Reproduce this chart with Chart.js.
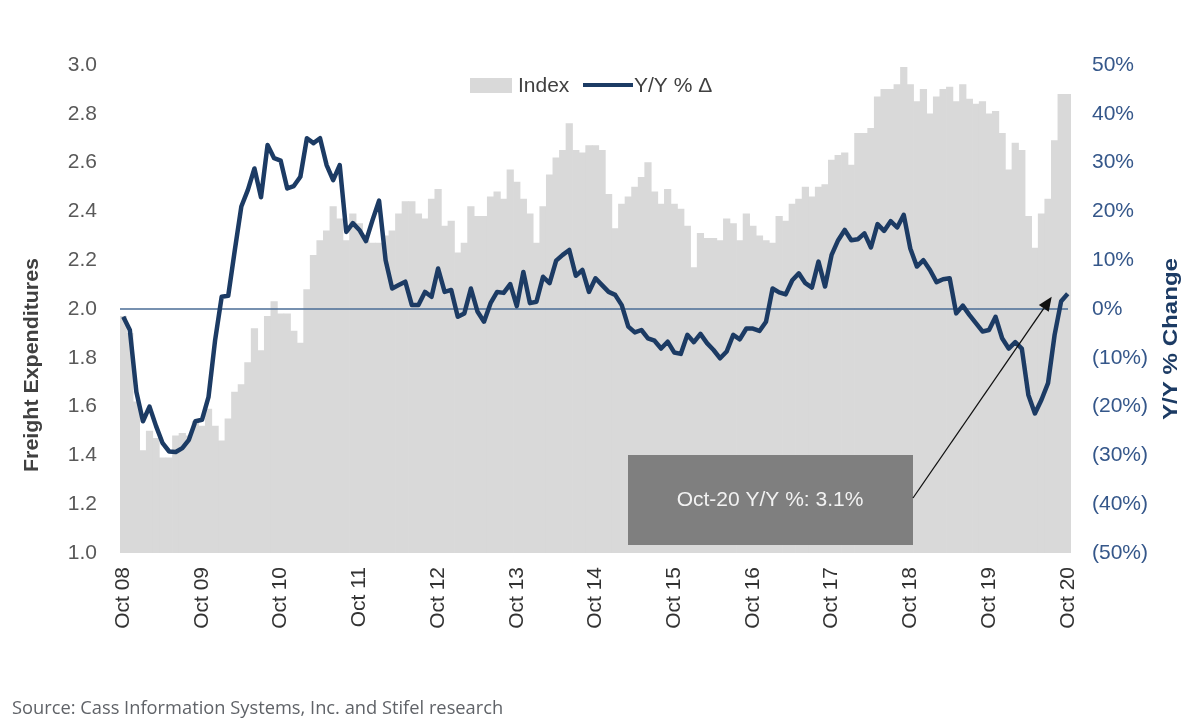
<!DOCTYPE html>
<html lang="en">
<head>
<meta charset="utf-8">
<title>Freight Expenditures</title>
<script src="https://cdn.jsdelivr.net/npm/chart.js@4.4.1/dist/chart.umd.min.js"></script>
<style>
  html, body { margin: 0; padding: 0; background: #ffffff; }
  #wrap { position: relative; width: 1200px; height: 726px; }
</style>
</head>
<body>
<div id="wrap"><canvas id="freightchart"></canvas></div>
<script>
"use strict";

/**
 * @file Cass freight expenditures index (bars, left axis) with its
 *  year-over-year change (line, right axis), monthly Oct 08 - Oct 20.
 */

// Category axis: one entry per month, only the October months get a label.
const monthNames = ["Jan", "Feb", "Mar", "Apr", "May", "Jun", "Jul", "Aug", "Sep", "Oct", "Nov", "Dec"];
const yearTicks = ["Oct 08", "Oct 09", "Oct 10", "Oct 11", "Oct 12", "Oct 13", "Oct 14",
  "Oct 15", "Oct 16", "Oct 17", "Oct 18", "Oct 19", "Oct 20"];

// Freight expenditures index (left axis)
const indexValues = [
  1.97, 1.90, 1.62, 1.42, 1.50, 1.47, 1.39, 1.39, 1.48, 1.49, 1.48, 1.54,
  1.52, 1.59, 1.52, 1.46, 1.55, 1.66, 1.69, 1.78, 1.92, 1.83, 1.97, 2.03,
  1.98, 1.98, 1.91, 1.86, 2.08, 2.22, 2.28, 2.32, 2.42, 2.37, 2.28, 2.39,
  2.35, 2.28, 2.27, 2.27, 2.30, 2.32, 2.39, 2.44, 2.44, 2.39, 2.37, 2.45,
  2.49, 2.34, 2.36, 2.23, 2.27, 2.42, 2.38, 2.38, 2.46, 2.48, 2.45, 2.57,
  2.52, 2.45, 2.39, 2.27, 2.42, 2.55, 2.62, 2.65, 2.76, 2.65, 2.64, 2.67,
  2.67, 2.65, 2.47, 2.33, 2.43, 2.46, 2.50, 2.54, 2.60, 2.48, 2.43, 2.49,
  2.43, 2.41, 2.34, 2.17, 2.31, 2.29, 2.29, 2.28, 2.37, 2.35, 2.28, 2.39,
  2.34, 2.30, 2.28, 2.27, 2.38, 2.36, 2.43, 2.45, 2.50, 2.46, 2.50, 2.51,
  2.61, 2.63, 2.64, 2.59, 2.72, 2.72, 2.74, 2.87, 2.90, 2.90, 2.92, 2.99,
  2.92, 2.85, 2.90, 2.80, 2.87, 2.90, 2.91, 2.85, 2.92, 2.86, 2.84, 2.85,
  2.80, 2.81, 2.72, 2.57, 2.68, 2.65, 2.38, 2.25, 2.39, 2.45, 2.69, 2.88,
  2.88
];

// Y/Y % change (right axis)
const yoyValues = [
  -1.6, -4.3, -17.0, -23.0, -20.0, -24.0, -27.5, -29.2, -29.3, -28.5, -26.8, -23.0,
  -22.7, -18.0, -6.4, 2.5, 2.7, 12.0, 21.0, 24.4, 28.8, 22.9, 33.6, 30.9,
  30.4, 24.7, 25.2, 27.1, 35.0, 34.0, 35.0, 29.5, 26.4, 29.5, 15.8, 17.6,
  16.2, 13.9, 18.2, 22.2, 10.0, 4.2, 4.9, 5.6, 0.8, 0.8, 3.5, 2.5,
  8.3, 3.5, 3.9, -1.6, -0.9, 4.2, -0.5, -2.6, 1.2, 3.5, 3.3, 5.1,
  0.6, 7.6, 1.2, 1.5, 6.6, 5.3, 9.9, 11.1, 12.1, 6.8, 8.0, 3.5,
  6.3, 4.9, 3.5, 2.9, 0.8, -3.6, -4.8, -4.3, -6.0, -6.5, -8.1, -6.7,
  -8.9, -9.2, -5.3, -6.8, -5.1, -7.0, -8.4, -10.1, -8.7, -5.3, -6.2, -4.0,
  -4.0, -4.5, -2.6, 4.2, 3.4, 3.0, 5.9, 7.3, 5.3, 4.4, 9.7, 4.6,
  11.1, 14.1, 16.2, 14.1, 14.3, 15.5, 12.6, 17.4, 16.0, 18.0, 16.7, 19.3,
  12.4, 8.7, 10.0, 8.0, 5.5, 6.1, 6.3, -0.9, 0.7, -1.2, -2.9, -4.6,
  -4.3, -1.6, -6.0, -8.1, -6.8, -8.1, -17.6, -21.4, -18.6, -15.2, -5.3, 1.6,
  3.1
];

const calloutText = "Oct-20 Y/Y %: 3.1%";
const sourceText = "Source: Cass Information Systems, Inc. and Stifel research";

const navy = "#1c3b64";
const barGrey = "#d9d9d9";
const textGrey = "#404040";

Chart.defaults.font.family = "'Liberation Sans', Arial, sans-serif";
Chart.defaults.font.size = 21;

document.addEventListener("DOMContentLoaded", createChart);

/**
 * Builds "Oct 08", "Nov 08", ... for every month in the series.
 *
 * @param {number} count - Number of months
 * @returns {string[]}
 */
function buildMonthLabels(count) {
  const labels = [];
  for (let i = 0; i < count; i++) {
    const m = (9 + i) % 12;
    const y = 8 + Math.floor((9 + i) / 12);
    labels.push(monthNames[m] + " " + String(y).padStart(2, "0"));
  }
  return labels;
}

/**
 * Draws rotated text, stretched along its reading direction to a given length.
 */
function drawRotatedTitle(ctx, text, cx, cy, font, color, length) {
  ctx.save();
  ctx.font = font;
  ctx.fillStyle = color;
  ctx.textAlign = "center";
  ctx.textBaseline = "middle";
  ctx.translate(cx, cy);
  ctx.rotate(-Math.PI / 2);
  const w = ctx.measureText(text).width;
  ctx.scale(length / w, 1);
  ctx.fillText(text, 0, 0);
  ctx.restore();
}

function drawLegend(ctx) {
  ctx.save();
  ctx.font = "21px 'Liberation Sans', Arial, sans-serif";
  ctx.textBaseline = "middle";
  ctx.fillStyle = barGrey;
  ctx.fillRect(470, 78, 42, 15);
  ctx.fillStyle = textGrey;
  ctx.fillText("Index", 518, 86);
  ctx.strokeStyle = navy;
  ctx.lineWidth = 4;
  ctx.beginPath();
  ctx.moveTo(583, 85);
  ctx.lineTo(633, 85);
  ctx.stroke();
  ctx.fillText("Y/Y % \u0394", 634, 86);
  ctx.restore();
}

function drawCallout(chart) {
  const ctx = chart.ctx;
  const last = yoyValues.length - 1;
  const tipX = chart.scales.x.getPixelForValue(last) - 16;
  const tipY = chart.scales.y1.getPixelForValue(yoyValues[last]) + 3;
  const startX = 913;
  const startY = 498;

  ctx.save();
  ctx.fillStyle = "#7f7f7f";
  ctx.fillRect(628, 455, 285, 90);
  ctx.font = "21px 'Liberation Sans', Arial, sans-serif";
  ctx.fillStyle = "#f2f2f2";
  ctx.textAlign = "center";
  ctx.textBaseline = "middle";
  ctx.fillText(calloutText, 770, 500);

  const angle = Math.atan2(tipY - startY, tipX - startX);
  const head = 14;
  const baseX = tipX - head * Math.cos(angle);
  const baseY = tipY - head * Math.sin(angle);
  ctx.strokeStyle = "#111111";
  ctx.lineWidth = 1.3;
  ctx.beginPath();
  ctx.moveTo(startX, startY);
  ctx.lineTo(baseX, baseY);
  ctx.stroke();
  ctx.fillStyle = "#111111";
  ctx.beginPath();
  ctx.moveTo(tipX, tipY);
  ctx.lineTo(baseX + 6 * Math.sin(angle), baseY - 6 * Math.cos(angle));
  ctx.lineTo(baseX - 6 * Math.sin(angle), baseY + 6 * Math.cos(angle));
  ctx.closePath();
  ctx.fill();
  ctx.restore();
}

function drawSource(ctx) {
  ctx.save();
  ctx.font = "18.3px 'Open Sans', Lato, sans-serif";
  ctx.fillStyle = "#606368";
  ctx.textBaseline = "alphabetic";
  ctx.fillText(sourceText, 12, 714);
  ctx.restore();
}

// zero line sits over the bars but under the Y/Y line
const chartDecorations = {
  id: "chartDecorations",
  afterDatasetDraw(chart, args) {
    if (args.index !== 0) return;
    const { ctx, chartArea } = chart;
    const zeroY = chart.scales.y1.getPixelForValue(0);
    ctx.save();
    ctx.strokeStyle = "#4a6d96";
    ctx.lineWidth = 1.5;
    ctx.beginPath();
    ctx.moveTo(chartArea.left, zeroY);
    ctx.lineTo(chartArea.right - 3, zeroY);
    ctx.stroke();
    ctx.restore();
  },
  afterDraw(chart) {
    const ctx = chart.ctx;
    drawLegend(ctx);
    drawRotatedTitle(ctx, "Freight Expenditures", 32, 365,
      "bold 21px 'Liberation Sans', Arial, sans-serif", textGrey, 214);
    drawRotatedTitle(ctx, "Y/Y % Change", 1171, 339,
      "bold 21px 'Liberation Sans', Arial, sans-serif", navy, 162);
    drawCallout(chart);
    drawSource(ctx);
  }
};

/**
 * Creates the combined bar + line chart.
 *
 * @returns {void}
 */
function createChart() {
  const canvas = document.querySelector("#freightchart");
  const months = buildMonthLabels(indexValues.length);

  new Chart(canvas, {
    type: "bar",
    data: {
      labels: months,
      datasets: [
        {
          label: "Index",
          data: indexValues,
          backgroundColor: barGrey,
          borderWidth: 0,
          barPercentage: 1,
          categoryPercentage: 1,
          yAxisID: "y",
          order: 2,
        },
        {
          type: "line",
          label: "Y/Y % \u0394",
          data: yoyValues,
          borderColor: navy,
          borderWidth: 4.5,
          pointRadius: 0,
          tension: 0,
          borderJoinStyle: "round",
          yAxisID: "y1",
          order: 1,
        },
      ],
    },
    options: {
      responsive: true,
      maintainAspectRatio: false,
      animation: false,
      layout: { padding: { top: 65, left: 0, right: 0, bottom: 0 } },
      plugins: {
        legend: { display: false },
        tooltip: { enabled: false },
      },
      scales: {
        x: {
          grid: { display: false, drawTicks: false },
          border: { display: false },
          afterFit: (scale) => { scale.height = 173; },
          ticks: {
            autoSkip: false,
            maxRotation: 90,
            minRotation: 90,
            padding: 14,
            color: "#333333",
            callback: function (value) {
              const label = this.getLabelForValue(value);
              return yearTicks.includes(label) ? label : "";
            },
          },
        },
        y: {
          position: "left",
          min: 1,
          max: 3,
          grid: { display: false, drawTicks: false },
          border: { display: false },
          afterFit: (scale) => { scale.width = 120; },
          ticks: {
            stepSize: 0.2,
            padding: 23,
            color: "#595959",
            callback: (v) => v.toFixed(1),
          },
        },
        y1: {
          position: "right",
          min: -50,
          max: 50,
          grid: { display: false, drawTicks: false },
          border: { display: false },
          afterFit: (scale) => { scale.width = 129; },
          ticks: {
            stepSize: 10,
            padding: 21,
            color: "#35578a",
            callback: (v) => (v < 0 ? "(" + Math.abs(v) + "%)" : v + "%"),
          },
        },
      },
    },
    plugins: [chartDecorations],
  });
}
</script>
</body>
</html>
